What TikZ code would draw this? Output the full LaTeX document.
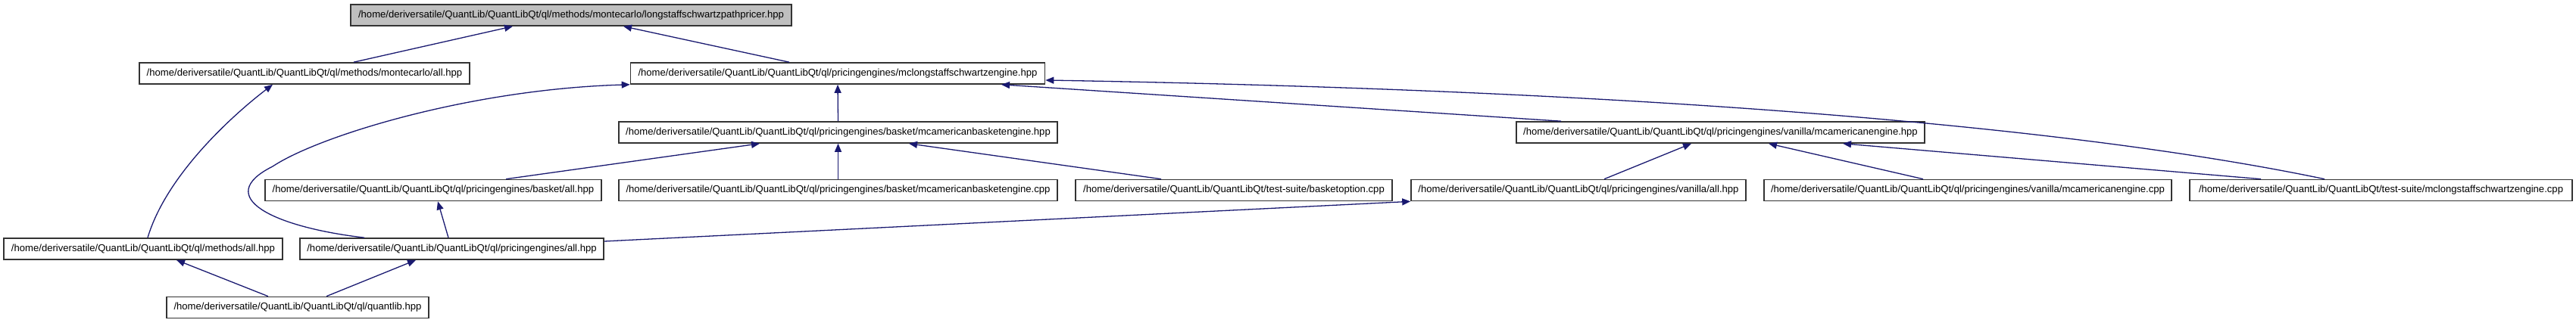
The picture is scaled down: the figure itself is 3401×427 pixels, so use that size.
\documentclass[tikz,border=0pt]{standalone}
\usepackage{fontspec}
\setmainfont{Liberation Sans}
\usetikzlibrary{arrows.meta}
\definecolor{edgeblue}{HTML}{191970}
\definecolor{topfill}{HTML}{BFBFBF}
\definecolor{boxline}{HTML}{333333}
\tikzset{
  filebox/.style={draw=boxline, line width=1.6pt, fill=white, inner sep=0pt,
    minimum height=28pt, font=\fontsize{13.1}{15}\selectfont, anchor=center},
  topbox/.style={filebox, fill=topfill},
  dep/.style={draw=edgeblue, line width=1.3pt, -{Triangle[length=11pt,width=9pt]}}
}
\begin{document}
\begin{tikzpicture}[x=1pt,y=1pt]
\useasboundingbox (0,0) rectangle (3401,-427);
\node[topbox, minimum width=582pt] (A) at (754,-20) {/home/deriversatile/QuantLib/QuantLibQt/ql/methods/montecarlo/longstaffschwartzpathpricer.hpp};
\node[filebox, minimum width=436pt] (B) at (402,-97) {/home/deriversatile/QuantLib/QuantLibQt/ql/methods/montecarlo/all.hpp};
\node[filebox, minimum width=547pt] (C) at (1106,-97) {/home/deriversatile/QuantLib/QuantLibQt/ql/pricingengines/mclongstaffschwartzengine.hpp};
\node[filebox, minimum width=579pt] (D) at (1106.5,-175) {/home/deriversatile/QuantLib/QuantLibQt/ql/pricingengines/basket/mcamericanbasketengine.hpp};
\node[filebox, minimum width=539pt] (E) at (2271.5,-175) {/home/deriversatile/QuantLib/QuantLibQt/ql/pricingengines/vanilla/mcamericanengine.hpp};
\node[filebox, minimum width=444pt] (F) at (572,-251.5) {/home/deriversatile/QuantLib/QuantLibQt/ql/pricingengines/basket/all.hpp};
\node[filebox, minimum width=579pt] (G) at (1106.5,-251.5) {/home/deriversatile/QuantLib/QuantLibQt/ql/pricingengines/basket/mcamericanbasketengine.cpp};
\node[filebox, minimum width=418pt] (H) at (1629,-251.5) {/home/deriversatile/QuantLib/QuantLibQt/test-suite/basketoption.cpp};
\node[filebox, minimum width=442pt] (I) at (2084,-251.5) {/home/deriversatile/QuantLib/QuantLibQt/ql/pricingengines/vanilla/all.hpp};
\node[filebox, minimum width=538pt] (J) at (2598,-251.5) {/home/deriversatile/QuantLib/QuantLibQt/ql/pricingengines/vanilla/mcamericanengine.cpp};
\node[filebox, minimum width=505pt] (K) at (3143.5,-251.5) {/home/deriversatile/QuantLib/QuantLibQt/test-suite/mclongstaffschwartzengine.cpp};
\node[filebox, minimum width=368pt] (L) at (189,-329) {/home/deriversatile/QuantLib/QuantLibQt/ql/methods/all.hpp};
\node[filebox, minimum width=401pt] (M) at (596.5,-329) {/home/deriversatile/QuantLib/QuantLibQt/ql/pricingengines/all.hpp};
\node[filebox, minimum width=346pt] (N) at (393,-406.5) {/home/deriversatile/QuantLib/QuantLibQt/ql/quantlib.hpp};

\draw[dep] ([xshift=65pt]B.north) -- ([xshift=-77pt]A.south);
\draw[dep] ([xshift=-64pt]C.north) -- ([xshift=69pt]A.south);
\draw[dep] ([xshift=6pt]L.north) .. controls (220,-230) and (310,-150) .. ([xshift=-42pt]B.south);
\draw[dep] ([xshift=-115.5pt]M.north) .. controls (360,-300) and (280,-260) .. (360,-220)
   .. controls (420,-180) and (620,-118) .. (C.south west);
\draw[dep] (D.north) -- (C.south);
\draw[dep] ([xshift=-210.5pt]E.north) -- ([xshift=216pt]C.south);
\draw[dep] ([xshift=-74.5pt]K.north) .. controls (2750,-170) and (2200,-120) .. ([yshift=-9pt]C.east);
\draw[dep] ([xshift=96pt]F.north) -- ([xshift=-103.5pt]D.south);
\draw[dep] (G.north) -- (D.south);
\draw[dep] ([xshift=-96pt]H.north) -- ([xshift=93.5pt]D.south);
\draw[dep] ([xshift=34pt]I.north) -- ([xshift=-38.5pt]E.south);
\draw[dep] ([xshift=-59pt]J.north) -- ([xshift=63.5pt]E.south);
\draw[dep] ([xshift=-158.5pt]K.north) -- ([xshift=161.5pt]E.south);
\draw[dep] ([xshift=-4.5pt]M.north) -- ([xshift=6pt]F.south);
\draw[dep] ([yshift=10pt]M.east) -- (I.south west);
\draw[dep] ([xshift=-39pt]N.north) -- ([xshift=44pt]L.south);
\draw[dep] ([xshift=38pt]N.north) -- ([xshift=-47.5pt]M.south);
\end{tikzpicture}
\end{document}
